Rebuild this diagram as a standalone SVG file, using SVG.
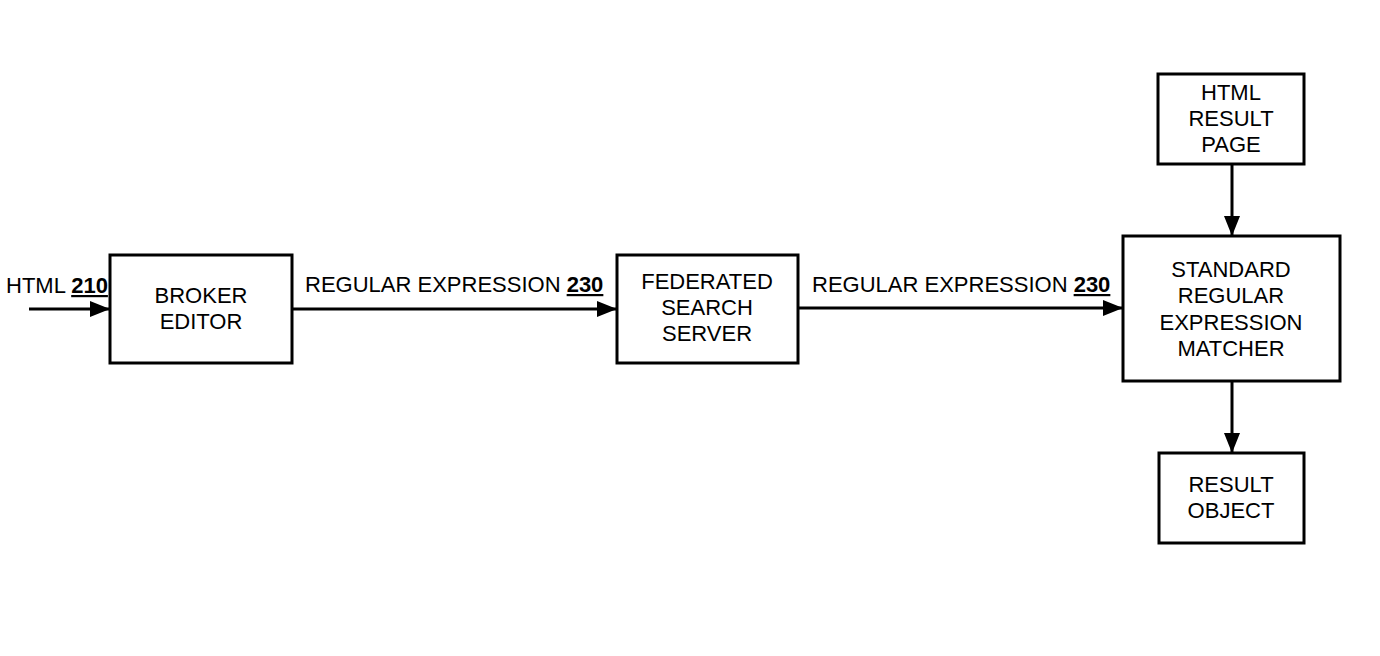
<svg xmlns="http://www.w3.org/2000/svg" width="1380" height="656" viewBox="0 0 1380 656">
<style>
.box{fill:#fff;stroke:#000;stroke-width:3}
.t{font-family:"Liberation Sans",Arial,sans-serif;font-size:22px;fill:#000;text-anchor:middle}
.l{font-family:"Liberation Sans",Arial,sans-serif;font-size:22px;fill:#000}
.n{font-weight:bold;text-decoration:underline}
.c{stroke:#000;stroke-width:3;fill:none}
</style>
<defs>
<marker id="ah" markerWidth="20" markerHeight="16" refX="20" refY="8" orient="auto" markerUnits="userSpaceOnUse">
<path d="M0,0 L20,8 L0,16 Z" fill="#000"/>
</marker>
</defs>
<rect width="1380" height="656" fill="#fff"/>
<g id="connectors">
<line class="c" x1="29" y1="309" x2="110" y2="309" marker-end="url(#ah)"/>
<line class="c" x1="292" y1="309" x2="617" y2="309" marker-end="url(#ah)"/>
<line class="c" x1="798" y1="308" x2="1123" y2="308" marker-end="url(#ah)"/>
<line class="c" x1="1232" y1="164" x2="1232" y2="236" marker-end="url(#ah)"/>
<line class="c" x1="1232" y1="381" x2="1232" y2="453" marker-end="url(#ah)"/>
<text class="l" x="6" y="293">HTML <tspan class="n">210</tspan></text>
<text class="l" x="305" y="292">REGULAR EXPRESSION <tspan class="n">230</tspan></text>
<text class="l" x="812" y="292">REGULAR EXPRESSION <tspan class="n">230</tspan></text>
</g>
<g id="broker">
<rect class="box" x="110" y="255" width="182" height="108"/>
<text class="t" x="201" y="303">BROKER</text>
<text class="t" x="201" y="329">EDITOR</text>
</g>
<g id="federated">
<rect class="box" x="617" y="255" width="181" height="108"/>
<text class="t" x="707" y="289">FEDERATED</text>
<text class="t" x="707" y="315">SEARCH</text>
<text class="t" x="707" y="341">SERVER</text>
</g>
<g id="htmlresult">
<rect class="box" x="1158" y="74" width="146" height="90"/>
<text class="t" x="1231" y="100">HTML</text>
<text class="t" x="1231" y="126">RESULT</text>
<text class="t" x="1231" y="152">PAGE</text>
</g>
<g id="matcher">
<rect class="box" x="1123" y="236" width="217" height="145"/>
<text class="t" x="1231" y="277">STANDARD</text>
<text class="t" x="1231" y="303">REGULAR</text>
<text class="t" x="1231" y="330">EXPRESSION</text>
<text class="t" x="1231" y="356">MATCHER</text>
</g>
<g id="resultobject">
<rect class="box" x="1159" y="453" width="145" height="90"/>
<text class="t" x="1231" y="492">RESULT</text>
<text class="t" x="1231" y="518">OBJECT</text>
</g>
</svg>
